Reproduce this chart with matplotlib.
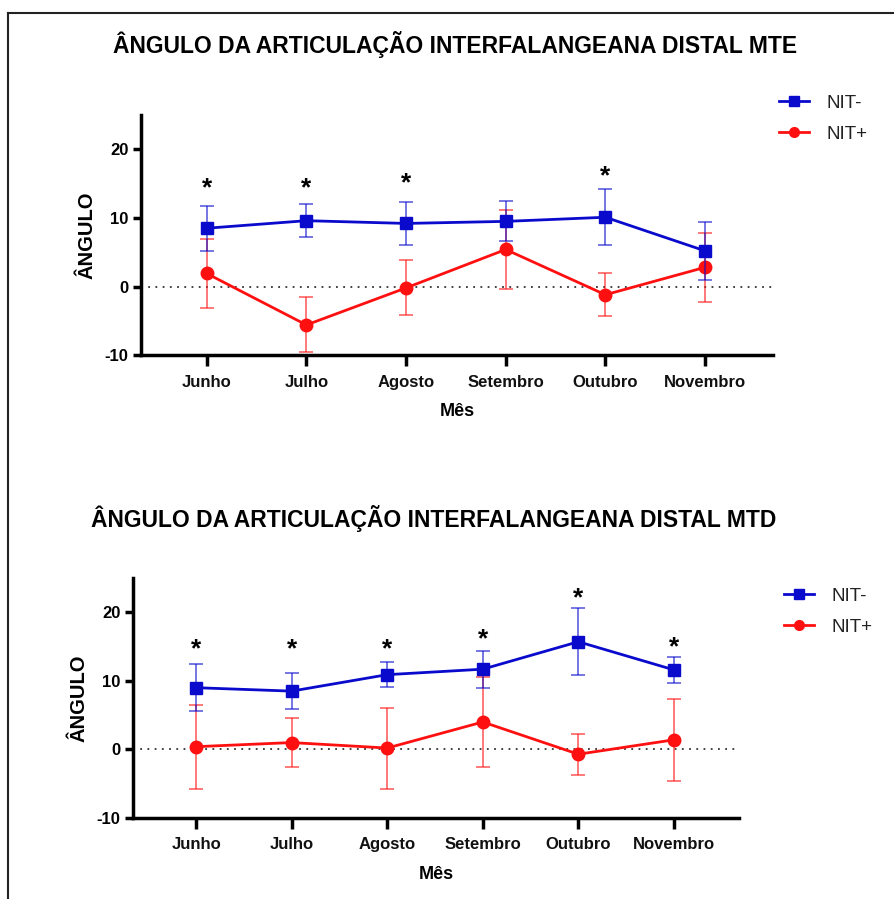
import matplotlib
matplotlib.use('Agg')
import matplotlib.pyplot as plt
from matplotlib.lines import Line2D

plt.rcParams['font.family'] = ['Liberation Sans', 'DejaVu Sans']
plt.rcParams['axes.unicode_minus'] = False

meses = ['Junho', 'Julho', 'Agosto', 'Setembro', 'Outubro', 'Novembro']

# MTE (grafico de cima)
mte_nit_neg = [8.5, 9.6, 9.2, 9.5, 10.1, 5.2]
mte_nit_neg_erro = [3.3, 2.4, 3.1, 2.9, 4.1, 4.2]
mte_nit_pos = [1.9, -5.6, -0.2, 5.4, -1.2, 2.8]
mte_nit_pos_erro = [5.1, 4.0, 4.0, 5.8, 3.1, 5.0]
mte_estrelas = ['*', '*', '*', '', '*', '']
mte_estrelas_y = [14.3, 14.3, 15.0, 0, 16.1, 0]

# MTD (grafico de baixo)
mtd_nit_neg = [9.0, 8.5, 10.9, 11.7, 15.7, 11.6]
mtd_nit_neg_erro = [3.4, 2.6, 1.8, 2.7, 4.9, 1.9]
mtd_nit_pos = [0.4, 1.0, 0.2, 4.0, -0.7, 1.4]
mtd_nit_pos_erro = [6.1, 3.6, 5.9, 6.6, 3.0, 6.0]
mtd_estrelas = ['*', '*', '*', '*', '*', '*']
mtd_estrelas_y = [14.6, 14.6, 14.6, 16.0, 22.0, 14.9]

azul = '#0a0acd'
vermelho = '#ff1010'

fig = plt.figure(figsize=(8.95, 8.99), dpi=100)


def desenha(ax, neg, neg_erro, pos, pos_erro, estrelas, estrelas_y, titulo, pos_titulo, pos_leg):
    x = list(range(len(meses)))
    ax.errorbar(x, neg, yerr=neg_erro, color=azul, ecolor=azul, elinewidth=1.3,
                capsize=5, capthick=1.3, lw=2, marker='s', markersize=9, zorder=4)
    ax.errorbar(x, pos, yerr=pos_erro, color=vermelho, ecolor=vermelho, elinewidth=1.3,
                capsize=5, capthick=1.3, lw=2, marker='o', markersize=9, zorder=3)
    # barras de erro um pouco transparentes
    for c in ax.containers:
        for linha in c.lines[1]:
            linha.set_alpha(0.6)
        for col in c.lines[2]:
            col.set_alpha(0.6)
    ax.axhline(0, color='#333333', ls=(0, (1, 3)), lw=1.3, zorder=1)
    for xi, s, sy in zip(x, estrelas, estrelas_y):
        if s:
            ax.text(xi, sy, s, ha='center', va='center', fontsize=19, fontweight='bold')

    ax.set_xlim(-0.66, 5.68)
    ax.set_ylim(-10, 25)
    ax.set_yticks([-10, 0, 10, 20])
    ax.set_xticks(x)
    ax.set_xticklabels(meses, fontsize=12, fontweight='bold', color='#111111')
    for t in ax.get_yticklabels():
        t.set_fontsize(12)
        t.set_fontweight('bold')
    for s in ['top', 'right']:
        ax.spines[s].set_visible(False)
    for s in ['left', 'bottom']:
        ax.spines[s].set_linewidth(2.5)
    ax.tick_params(axis='y', length=6, width=2.5, pad=3)
    ax.tick_params(axis='x', length=8, width=2.5, pad=6)
    ax.set_ylabel('ÂNGULO', fontsize=14.5, fontweight='bold', labelpad=6)
    ax.set_xlabel('Mês', fontsize=13, fontweight='bold', labelpad=10)

    fig.text(pos_titulo[0], pos_titulo[1], titulo, ha='center', va='center',
             fontsize=16.5, fontweight='bold')

    alcas = [Line2D([], [], color=azul, marker='s', markersize=7, lw=2),
             Line2D([], [], color=vermelho, marker='o', markersize=7, lw=2)]
    fig.legend(alcas, ['NIT-', 'NIT+'], loc='upper left', bbox_to_anchor=pos_leg,
               frameon=False, fontsize=13.5, handlelength=1.6, labelspacing=0.75,
               handletextpad=0.9, labelcolor='#222222', borderaxespad=0)


ax1 = fig.add_axes([0.1575, 0.605, 0.706, 0.267])
desenha(ax1, mte_nit_neg, mte_nit_neg_erro, mte_nit_pos, mte_nit_pos_erro,
        mte_estrelas, mte_estrelas_y,
        'ÂNGULO DA ARTICULAÇÃO INTERFALANGEANA DISTAL MTE',
        (0.509, 1 - 45 / 899), (772 / 895, 1 - 87 / 899))

ax2 = fig.add_axes([0.1486, 0.0901, 0.677, 0.267])
desenha(ax2, mtd_nit_neg, mtd_nit_neg_erro, mtd_nit_pos, mtd_nit_pos_erro,
        mtd_estrelas, mtd_estrelas_y,
        'ÂNGULO DA ARTICULAÇÃO INTERFALANGEANA DISTAL MTD',
        (0.485, 1 - 518 / 899), (777 / 895, 1 - 580 / 899))

# moldura
fig.add_artist(Line2D([8 / 895, 893 / 895], [1 - 13 / 899, 1 - 13 / 899], color='#222222', lw=1.5))
fig.add_artist(Line2D([8 / 895, 8 / 895], [1 - 13 / 899, 0], color='#222222', lw=1.5))

fig.savefig('out.png', dpi=100)
